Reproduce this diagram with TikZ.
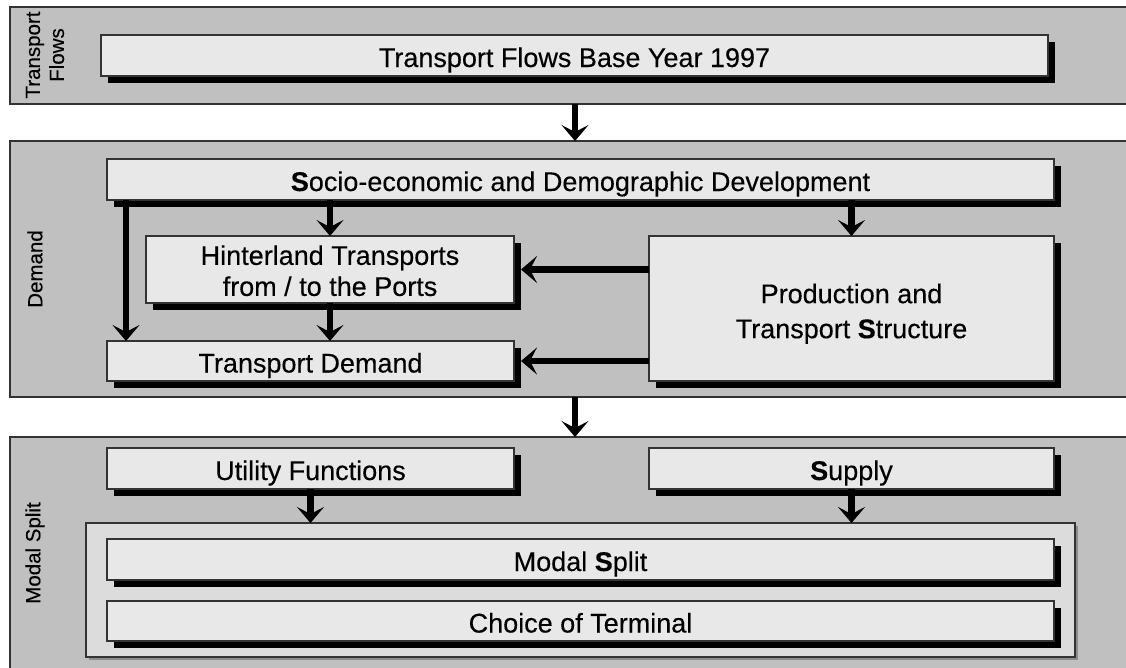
\documentclass[tikz,border=0pt]{standalone}
\usepackage{fontspec}
\setmainfont{Liberation Sans}[FakeBold=0.3]
\usetikzlibrary{arrows.meta,shadows}
\definecolor{bandgray}{HTML}{C0C0C0}
\definecolor{boxgray}{HTML}{E8E8E8}
\definecolor{contgray}{HTML}{DCDCDC}
\definecolor{edgegray}{HTML}{333333}
\begin{document}
\begin{tikzpicture}[x=1pt,y=-1pt,
  band/.style={draw=edgegray, line width=1.3pt, fill=bandgray, anchor=north west,
    inner sep=0pt, outer sep=0pt},
  sidelabel/.style={rotate=90, align=center, inner sep=0pt,
    font=\fontsize{20.5}{24}\selectfont},
  box/.style={draw=edgegray, line width=1.1pt, fill=boxgray, anchor=north west,
    inner sep=0pt, outer sep=0pt, align=center,
    font=\fontsize{27}{31}\selectfont,
    drop shadow={shadow xshift=7pt, shadow yshift=-7pt, fill=black, opacity=1}},
  oneline/.style={text height=23pt, text depth=0pt},
  container/.style={draw=edgegray, line width=1.1pt, fill=contgray, anchor=north west,
    inner sep=0pt, outer sep=0pt,
    drop shadow={shadow xshift=3pt, shadow yshift=-3pt, fill=black!45, opacity=1}},
  arr/.style={line width=6.5pt, -{Stealth[length=16pt,width=27pt,inset=7pt]}}
]
\useasboundingbox (0,0) rectangle (1126,667);

% bands
\node[band, minimum width=1130pt, minimum height=97pt] (band1) at (10,7) {};
\node[band, minimum width=1130pt, minimum height=256pt] (band2) at (10,141) {};
\node[band, minimum width=1130pt, minimum height=250pt] (band3) at (10,437) {};

% side labels
\node[sidelabel] (lab1) at (45,55) {Transport\\Flows};
\node[sidelabel] (lab2) at (35,269) {Demand};
\node[sidelabel] (lab3) at (35,553) {Modal Split};

% band 1
\node[box, oneline, minimum width=947pt, minimum height=41pt] (tf) at (101,35)
  {Transport Flows Base Year 1997};

% band 2
\node[box, oneline, minimum width=947pt, minimum height=41pt] (socio) at (107,159)
  {\textbf{S}ocio-economic and Demographic Development};
\node[box, minimum width=368pt, minimum height=67pt, text height=53pt,
  font=\fontsize{27}{31}\selectfont] (hint) at (146,236)
  {Hinterland Transports\\from / to the Ports};
\node[box, minimum width=405pt, minimum height=145pt, text height=65pt,
  font=\fontsize{27}{35}\selectfont] (prod) at (649,236)
  {Production and\\Transport \textbf{S}tructure};
\node[box, oneline, minimum width=407pt, minimum height=40pt] (td) at (107,341)
  {Transport Demand};

% band 3
\node[box, oneline, minimum width=407pt, minimum height=41pt] (util) at (107,448)
  {Utility Functions};
\node[box, oneline, minimum width=405pt, minimum height=41pt] (supply) at (649,448)
  {\textbf{S}upply};
\node[container, minimum width=989pt, minimum height=134pt] (cont) at (86,523) {};
\node[box, oneline, minimum width=947pt, minimum height=41pt] (ms) at (107,539)
  {Modal \textbf{S}plit};
\node[box, oneline, minimum width=947pt, minimum height=40pt] (ct) at (107,601)
  {Choice of Terminal};

% connectors
\draw[arr] (band1.south) -- (band2.north);
\draw[arr] (band2.south) -- (band3.north);
\draw[arr] (socio.south -| hint.north) -- (hint.north);
\draw[arr] (socio.south -| prod.north) -- (prod.north);
\draw[arr] ([xshift=19pt]socio.south west) -- ([xshift=19pt]td.north west);
\draw[arr] (hint.south) -- (td.north -| hint.south);
\draw[arr] (prod.west |- hint.east) -- ([xshift=7pt]hint.east);
\draw[arr] (prod.west |- td.east) -- ([xshift=7pt]td.east);
\draw[arr] (util.south) -- (util.south |- cont.north);
\draw[arr] (supply.south) -- (supply.south |- cont.north);
\end{tikzpicture}
\end{document}
